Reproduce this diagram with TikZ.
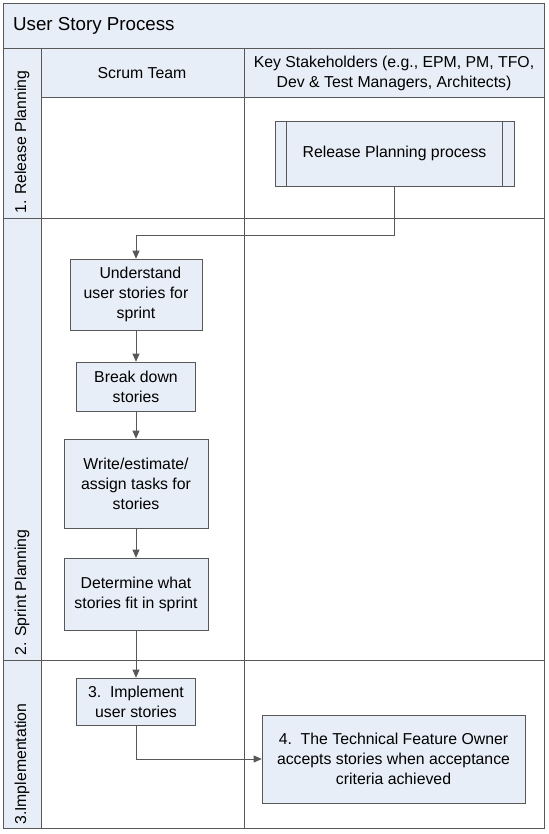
\documentclass[tikz,border=0pt]{standalone}
\usepackage{fontspec}
\setmainfont{Liberation Sans}
\usetikzlibrary{arrows.meta}
\definecolor{paleblue}{RGB}{232,238,247}
\definecolor{rule}{RGB}{88,88,88}
\begin{document}
\begin{tikzpicture}[x=0.03cm,y=-0.03cm,
  font=\fontsize{13.5}{17}\selectfont,
  box/.style={draw=rule,fill=paleblue,align=center,inner sep=2pt},
  lanetext/.style={rotate=90,anchor=west,inner sep=0pt},
  flow/.style={draw=rule,thick,-{Triangle[length=7pt,width=6pt]}}]
\useasboundingbox (0,0) rectangle (548,834);

% Pool frame and shaded bands
\fill[paleblue] (3,3) rectangle (544,48);
\fill[paleblue] (3,48) rectangle (41,828);
\fill[paleblue] (41,48) rectangle (544,97);
\draw[rule,thick] (3,3) rectangle (544,828);
\draw[rule,thick] (3,48) -- (544,48);
\draw[rule,thick] (41,48) -- (41,828);
\draw[rule,thick] (244,48) -- (244,828);
\draw[rule,thick] (41,97) -- (544,97);
\draw[rule,thick] (3,218) -- (544,218);
\draw[rule,thick] (3,660) -- (544,660);

% Titles
\node[anchor=west,font=\fontsize{16}{19}\selectfont] (title) at (9,26) {User Story Process};
\node (scrum) at (142,73) {Scrum Team};
\node[align=center] (keys) at (394,73) {Key Stakeholders (e.g., EPM, PM, TFO,\\Dev \& Test Managers, Architects)};

% Lane labels
\node[lanetext] (lane1) at (22,214) {1. Release Planning};
\node[lanetext] (lane2) at (22,656) {2. Sprint Planning};
\node[lanetext] (lane3) at (22,825) {3.Implementation};

% Steps
\node[box,minimum width=7.17cm,minimum height=1.95cm] (relproc) at (394.5,153.5) {Release Planning process};
\draw[rule,thick] ([xshift=0.36cm]relproc.north west) -- ([xshift=0.36cm]relproc.south west);
\draw[rule,thick] ([xshift=-0.36cm]relproc.north east) -- ([xshift=-0.36cm]relproc.south east);
\node[box,minimum width=3.96cm,minimum height=2.13cm] (understand) at (136,294.5) {\ \ Understand\\user stories for\\sprint};
\node[box,minimum width=3.57cm,minimum height=1.47cm] (breakdown) at (136,386.5) {Break down\\stories};
\node[box,minimum width=4.32cm,minimum height=2.67cm] (tasks) at (136,483.5) {Write/estimate/\\assign tasks for\\stories};
\node[box,minimum width=4.32cm,minimum height=2.16cm] (fit) at (136,594) {Determine what\\stories fit in sprint};
\node[box,minimum width=3.57cm,minimum height=1.41cm] (implement) at (136,701.5) {3.\ \ Implement\\user stories};
\node[box,minimum width=7.89cm,minimum height=2.64cm] (accept) at (393.5,759) {4.\ \ The Technical Feature Owner\\accepts stories when acceptance\\criteria achieved};

% Connectors
\draw[flow] (relproc.south) -- ++(0,49) -| (understand.north);
\draw[flow] (understand) -- (breakdown);
\draw[flow] (breakdown) -- (tasks);
\draw[flow] (tasks) -- (fit);
\draw[flow] (fit) -- (implement);
\draw[flow] (implement.south) |- (accept.west);

\end{tikzpicture}
\end{document}
